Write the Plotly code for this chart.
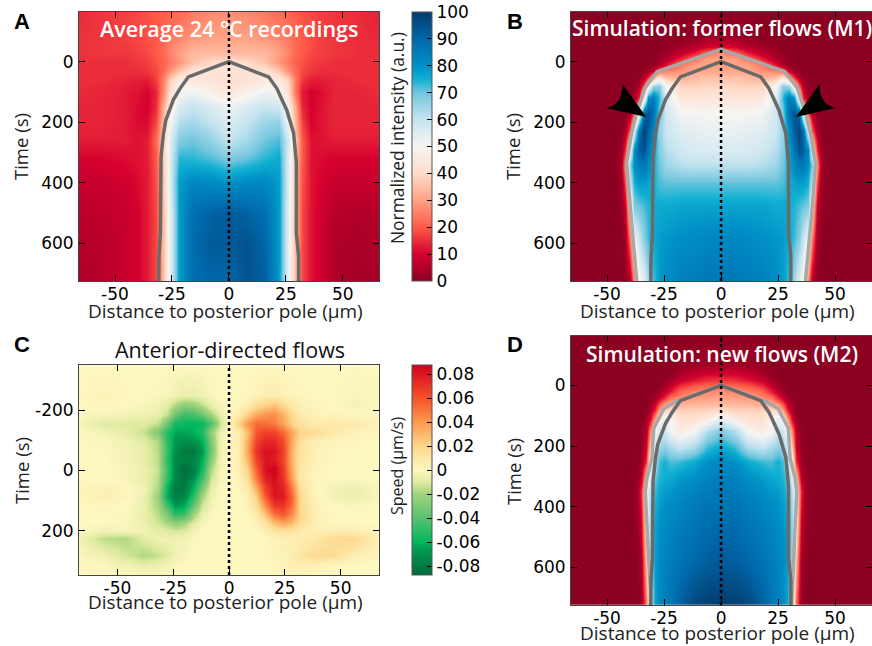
import numpy as np
import plotly.graph_objects as go

W, H = 872, 646

# ---------- panel A: average recordings (full width) ----------
a_x = [-70,-56,-46,-40,-36,-32,-29,-26,-22,-16,-8,0,8,16,22,26,29,32,36,40,46,56,70]
a_t = [-170,-80,-30,0,30,60,100,150,200,260,320,400,500,600,730]
a_z = [
 [14,16,17,18,19,20,20,21,22,24,26,27,26,24,22,21,20,19,18,17,16,15,13],
 [15,16,17,18,19,20,22,24,26,28,30,30,30,28,26,24,22,20,19,17,16,15,14],
 [15,16,16,17,18,20,22,26,30,34,34,34,34,34,30,26,22,20,18,17,16,15,15],
 [15,15,15,16,17,19,21,24,28,35,40,41,40,35,28,24,21,19,17,16,15,15,15],
 [15,15,15,15,16,18,22,28,36,43,43,43,43,43,36,28,22,18,16,15,15,15,15],
 [15,15,14,13,13,17,25,38,46,45,43,41,43,45,46,38,25,16,13,13,14,15,15],
 [15,14,13,12,10,14,26,42,50,52,48,44,48,52,50,42,24,13,10,11,14,14,15],
 [14,14,13,11,10,15,32,46,56,60,56,52,56,60,58,48,32,14,10,12,14,14,14],
 [14,14,13,11,11,18,34,50,62,64,60,56,60,65,66,50,34,17,10,12,14,14,14],
 [13,13,13,12,13,22,38,55,68,70,66,60,64,70,72,58,38,20,12,12,13,13,13],
 [10,10,11,12,13,20,36,56,74,74,72,69,71,74,76,56,36,20,12,11,10,10,10],
 [8,8,9,11,13,19,35,56,78,82,82,80,82,82,78,56,35,19,12,10,8,8,8],
 [6,7,8,10,13,18,34,54,78,88,91,93,91,88,78,54,34,18,12,9,6,5,6],
 [5,6,8,10,13,18,34,54,78,89,93,93,95,90,78,54,34,18,12,9,5,4,5],
 [4,6,8,10,13,18,34,54,78,88,90,90,94,92,78,54,34,18,12,9,5,3,4],
]

# ---------- panel B: simulation M1 (half profile, x >= 0) ----------
b_x = [0,6,12,18,24,27,30,32,34,36,38,40,42,44,47,70]
b_t = [-170,-80,-50,-30,-10,10,30,50,80,120,170,230,290,340,400,480,580,730]
b_z = [
 [0,0,0,0,0,0,0,0,0,0,0,0,0,0,0,0],
 [3,2,1,0,0,0,0,0,0,0,0,0,0,0,0,0],
 [12,10,6,3,1,0,0,0,0,0,0,0,0,0,0,0],
 [28,22,13,7,2,1,0,0,0,0,0,0,0,0,0,0],
 [30,30,24,14,5,2,0,0,0,0,0,0,0,0,0,0],
 [30,30,30,24,12,5,1,0,0,0,0,0,0,0,0,0],
 [31,31,31,28,26,22,8,3,1,0,0,0,0,0,0,0],
 [35,35,34,32,34,42,30,14,4,1,0,0,0,0,0,0],
 [39,39,38,39,50,68,65,45,20,5,1,0,0,0,0,0],
 [44,44,44,45,56,74,85,80,45,15,3,0,0,0,0,0],
 [50,50,50,51,58,70,88,95,90,50,18,4,0,0,0,0],
 [53,53,54,55,59,66,82,92,98,88,55,20,4,0,0,0],
 [56,56,56,58,62,68,78,86,95,92,82,50,15,2,0,0],
 [61,61,61,62,65,70,76,82,86,85,80,68,28,4,0,0],
 [71,71,71,71,71,72,75,77,78,78,75,60,18,2,0,0],
 [77,77,77,77,76,76,75,74,72,70,68,42,8,1,0,0],
 [82,82,81,80,79,78,76,73,68,60,52,25,3,0,0,0],
 [86,86,85,84,81,78,72,64,55,48,25,5,0,0,0,0],
]

# ---------- panel D: simulation M2 (half profile, x >= 0) ----------
d_x = [0,6,12,18,22,25,27,29,31,33,35,37,40,70]
d_t = [-170,-70,-40,-20,0,20,40,60,80,110,150,200,250,300,350,400,480,580,730]
d_z = [
 [0,0,0,0,0,0,0,0,0,0,0,0,0,0],
 [3,3,2,1,0,0,0,0,0,0,0,0,0,0],
 [10,10,8,4,1,0,0,0,0,0,0,0,0,0],
 [16,15,12,8,3,1,0,0,0,0,0,0,0,0],
 [22,22,20,15,8,3,1,0,0,0,0,0,0,0],
 [28,26,26,22,14,7,3,1,0,0,0,0,0,0],
 [30,30,29,27,24,14,8,3,1,0,0,0,0,0],
 [34,34,33,32,32,28,18,8,2,0,0,0,0,0],
 [40,38,38,38,40,38,28,14,4,0,0,0,0,0],
 [54,46,42,42,50,54,46,30,10,2,0,0,0,0],
 [68,62,50,46,50,58,58,48,25,5,1,0,0,0],
 [76,72,62,58,62,66,64,58,35,8,1,0,0,0],
 [82,80,76,73,72,75,72,62,50,15,2,0,0,0],
 [84,83,80,78,76,75,74,70,55,35,6,1,0,0],
 [86,85,83,81,79,78,76,73,62,48,15,2,0,0],
 [87,87,85,83,81,80,78,75,64,48,12,2,0,0],
 [90,89,87,85,83,81,80,77,66,44,8,1,0,0],
 [93,92,90,87,85,83,81,78,64,34,4,0,0,0],
 [100,99,97,92,87,84,81,77,58,22,2,0,0,0],
]

# ---------- panel C: flow speed, in 0.001 um/s ----------
c_x = [-70,-56,-46,-38,-32,-28,-24,-20,-16,-12,-8,-4,0,4,8,12,16,20,24,28,32,38,46,56,70]
c_t = [-350,-250,-215,-185,-155,-125,-95,-65,-35,-5,25,55,85,115,145,175,200,225,280,310,350]
c_z = [
 [0,0,0,0,0,0,0,0,0,0,0,0,0,0,0,0,0,0,0,0,0,0,0,0,0],
 [0,3,1,0,-1,-2,-4,-6,-6,-4,-1,0,0,0,1,3,5,6,4,2,1,0,0,-2,0],
 [0,2,0,-2,-4,-8,-18,-26,-24,-16,-6,-1,0,1,5,15,22,26,18,9,4,2,0,-3,0],
 [0,-2,-3,-4,-6,-14,-34,-46,-44,-34,-20,-6,0,6,20,34,40,42,32,16,6,3,2,1,0],
 [0,-9,-9,-9,-14,-34,-56,-58,-60,-58,-42,-14,0,18,40,52,52,48,36,20,12,7,8,8,0],
 [0,-3,-7,-14,-30,-52,-64,-64,-62,-54,-24,-4,0,6,28,58,66,64,54,36,20,16,9,3,0],
 [0,-1,-4,-8,-18,-50,-68,-72,-70,-62,-30,-4,0,5,32,64,74,74,62,34,13,5,2,1,0],
 [0,0,-3,-7,-16,-48,-72,-80,-82,-68,-32,-4,0,5,34,70,82,80,66,30,11,4,1,0,0],
 [0,0,-3,-7,-16,-50,-74,-78,-76,-62,-26,-3,0,4,28,64,80,78,64,30,11,4,1,0,0],
 [0,0,-2,-5,-14,-46,-76,-86,-80,-56,-18,-2,0,3,20,56,82,88,68,32,9,2,0,0,0],
 [0,0,-2,-6,-16,-48,-76,-82,-72,-46,-12,-2,0,2,14,48,76,84,70,36,10,2,0,0,0],
 [1,4,1,-4,-18,-58,-80,-80,-62,-32,-7,-1,0,1,8,34,66,82,76,46,12,2,-3,-5,0],
 [1,5,2,-5,-22,-62,-78,-74,-52,-20,-4,0,0,0,4,22,58,80,78,54,16,3,-3,-6,0],
 [0,1,0,-6,-20,-46,-68,-64,-38,-12,-3,0,0,0,3,14,42,68,70,50,18,4,0,-1,0],
 [0,0,-1,-6,-16,-30,-50,-46,-22,-6,-1,0,0,0,1,7,26,50,58,42,20,5,1,0,0],
 [0,0,-1,-5,-12,-18,-24,-20,-9,-2,0,0,0,0,0,2,10,26,34,28,14,5,1,0,0],
 [0,-4,-3,-4,-7,-9,-11,-8,-3,0,0,0,0,0,0,1,3,10,13,11,7,5,6,6,1],
 [0,-16,-18,-8,-4,-4,-4,-3,-1,0,0,0,0,0,0,0,1,3,5,5,5,8,16,18,0],
 [0,-4,-12,-18,-14,-9,-4,-2,0,0,0,0,0,0,0,0,1,2,3,6,10,17,16,5,0],
 [0,-1,-4,-7,-5,-3,-1,0,0,0,0,0,0,0,0,0,0,1,2,5,6,4,1,0,0],
 [0,0,0,0,0,0,0,0,0,0,0,0,0,0,0,0,0,0,0,0,0,0,0,0,0],
]

# ---------- contour outlines ----------
rec_x = [-30.8,-30.7,-30.1,-29.8,-28.7,-27.7,-24.4,-21.4,-17.8,0,17.4,21,25.4,28.4,29.6,29.6,30.6,30.6]
rec_t = [724,642,567,314,236,193,126,88,50,0,50,88,160,236,333,567,642,724]
m1_x = [-37,-37.8,-40,-41.4,-39.2,-37,-33.4,-28,0,28,33.4,37,39.2,41.4,40,37.8,37]
m1_t = [724,655,480,336,236,170,87,33,-41,33,87,170,236,336,480,655,724]
m2_x = [-31,-31,-32.5,-33.2,-32.5,-30.3,-29.5,-25,-20,0,20,25,29.5,30.3,32.5,33.2,32.5,31,31]
m2_t = [724,680,461,351,306,240,141,76,54,0,54,76,141,240,306,351,461,680,724]

# ---------- ticks and labels ----------
x_ticks = [-50,-25,0,25,50]
x_labels = ["-50","-25","0","25","50"]
ab_time_ticks = [0,200,400,600]
c_time_ticks = [-200,0,200]
c_time_labels = ["-200","0","200"]
int_ticks = [0,10,20,30,40,50,60,70,80,90,100]
speed_ticks = [-0.08,-0.06,-0.04,-0.02,0,0.02,0.04,0.06,0.08]
speed_labels = ["-0.08","-0.06","-0.04","-0.02","0","0.02","0.04","0.06","0.08"]

int_scale = [[0,"#8c0022"],[0.1,"#d6002e"],[0.2,"#ff5a48"],[0.3,"#ffa284"],[0.4,"#ffdcca"],
             [0.5,"#f7f5f2"],[0.6,"#c6e4f0"],[0.7,"#72c6de"],[0.75,"#10b0d2"],[0.8,"#0090c6"],
             [0.9,"#0068aa"],[1,"#043a6c"]]
speed_scale = [[0,"#006a3c"],[0.12,"#009a50"],[0.157,"#00b85e"],[0.27,"#58c070"],[0.386,"#a2d47c"],
               [0.44,"#dcea9e"],[0.5,"#fdf7c0"],[0.614,"#fdd68a"],[0.729,"#fb9850"],[0.843,"#f7502c"],
               [1,"#d0001e"]]

TICK_FONT = dict(family="DejaVu Sans", size=17, color="black")
TEXT = "Open Sans"

def mirror(x, z):
    x = np.array(x, float); z = np.array(z, float)
    return np.r_[-x[:0:-1], x], np.c_[z[:, :0:-1], z]

def px(v): return v / W
def py(v): return 1 - v / H

panels = {
    "A": dict(ax="", box=(79,379.3,12,281), xr=(-65.8,66), yr=(724,-164), yt=ab_time_ticks, yl=None, xt=(225.5,311), yc=(21,147)),
    "B": dict(ax="2", box=(571,872,12,281), xr=(-65.8,66.2), yr=(724,-164), yt=ab_time_ticks, yl=None, xt=(717.5,311), yc=(513,147)),
    "C": dict(ax="3", box=(79,379.3,365.3,575), xr=(-67.2,67.3), yr=(346,-348), yt=c_time_ticks, yl=c_time_labels, xt=(225.5,601.5), yc=(21,471)),
    "D": dict(ax="4", box=(571,872,335.7,605), xr=(-65.8,66.2), yr=(724,-164), yt=ab_time_ticks, yl=None, xt=(717.5,633), yc=(513,472)),
}

fig = go.Figure()
bx, bz = mirror(b_x, b_z)
dx, dz = mirror(d_x, d_z)
fig.add_trace(go.Heatmap(x=a_x, y=a_t, z=a_z, zsmooth="best", coloraxis="coloraxis", xaxis="x", yaxis="y"))
fig.add_trace(go.Heatmap(x=bx, y=b_t, z=bz, zsmooth="best", coloraxis="coloraxis", xaxis="x2", yaxis="y2"))
fig.add_trace(go.Heatmap(x=c_x, y=c_t, z=(np.array(c_z, float) / 1000), zsmooth="best", coloraxis="coloraxis2", xaxis="x3", yaxis="y3"))
fig.add_trace(go.Heatmap(x=dx, y=d_t, z=dz, zsmooth="best", coloraxis="coloraxis", xaxis="x4", yaxis="y4"))

GREY, LIGHT = "#6a6a6a", "#a8a8a8"
def line(x, y, ax, color, width=3.5, dash="solid"):
    fig.add_trace(go.Scatter(x=x, y=y, mode="lines", xaxis="x"+ax, yaxis="y"+ax, showlegend=False,
                             hoverinfo="skip", line=dict(color=color, width=width, dash=dash)))

line(m1_x, m1_t, "2", LIGHT)
line(m2_x, m2_t, "4", LIGHT)
for ax in ["", "2", "4"]:
    line(rec_x, rec_t, ax, GREY)
for k, p in panels.items():
    line([0,0], list(p["yr"]), p["ax"], "black", 2.5, "3px,3px")

layout = dict(width=W, height=H, margin=dict(l=0,r=0,t=0,b=0), paper_bgcolor="white", plot_bgcolor="white",
              showlegend=False, font=dict(family=TEXT, color="#222"))
for k, p in panels.items():
    x0,x1,y0,y1 = p["box"]
    common = dict(ticks="inside", ticklen=6, tickwidth=1, tickcolor="black", showline=True, linecolor="#444",
                  linewidth=1, mirror="ticks", showgrid=False, zeroline=False, tickfont=TICK_FONT)
    layout["xaxis"+p["ax"]] = dict(domain=[px(x0),px(x1)], range=list(p["xr"]), tickvals=x_ticks, ticktext=x_labels,
        anchor="y"+p["ax"], ticklabelstandoff=-2, **common)
    y_extra = dict(ticktext=p["yl"]) if p["yl"] else {}
    layout["yaxis"+p["ax"]] = dict(domain=[py(y1),py(y0)], range=list(p["yr"]), tickvals=p["yt"],
        anchor="x"+p["ax"], ticklabelstandoff=1, **y_extra, **common)

def cb(y0, y1, vals, labels=None):
    d = dict(x=px(411.7), xanchor="left", xpad=0, thickness=20, thicknessmode="pixels",
             y=py(y1), yanchor="bottom", ypad=0, len=(y1-y0)/H, lenmode="fraction",
             tickvals=vals, ticks="inside", ticklen=5, tickcolor="black", tickwidth=1,
             outlinecolor="#555", outlinewidth=1, tickfont=TICK_FONT)
    if labels: d["ticktext"] = labels
    return d

layout["coloraxis"] = dict(cmin=0, cmax=100, colorscale=int_scale, colorbar=cb(12,281,int_ticks))
layout["coloraxis2"] = dict(cmin=-0.0875, cmax=0.0875, colorscale=speed_scale, colorbar=cb(365.3,575,speed_ticks,speed_labels))

def note(text, xp, yp, size=20, color="white", family=TEXT, angle=0, weight=None, anchor="center"):
    f = dict(family=family, size=size, color=color)
    if weight: f["weight"] = weight
    return dict(text=text, xref="paper", yref="paper", x=px(xp), y=py(yp), showarrow=False, font=f,
                textangle=angle, xanchor=anchor, yanchor="middle")

notes = [
    note("A", 12, 21, 22, "black", "Liberation Sans", weight="bold", anchor="left"),
    note("B", 505, 21, 22, "black", "Liberation Sans", weight="bold", anchor="left"),
    note("C", 12, 344, 22, "black", "Liberation Sans", weight="bold", anchor="left"),
    note("D", 505, 345, 22, "black", "Liberation Sans", weight="bold", anchor="left"),
    note("Average 24 °C recordings", 229, 28, 21.5, weight=600),
    note("Simulation: former flows (M1)", 721.5, 28, 21, weight=600),
    note("Simulation: new flows (M2)", 721.5, 353.5, 21, weight=600),
    note("Anterior-directed flows", 230, 349, 21.5, "#111"),
    note("Normalized intensity (a.u.)", 397, 138, 17.4, "#222", angle=-90),
    note("Speed (µm/s)", 397, 466, 16, "#222", angle=-90),
]
for k, p in panels.items():
    notes.append(note("Distance to posterior pole (µm)", p["xt"][0], p["xt"][1], 19, "#222"))
    notes.append(note("Time (s)", p["yc"][0], p["yc"][1], 18.5, "#222", angle=-90))
layout["annotations"] = notes

# arrowheads in panel B, in its data coordinates
arrow_shapes = []
for s in (-1, 1):
    path = f"M {s*32.8} 183 L {s*43.3} 74 Q {s*43} 143 {s*50.3} 153 Z"
    arrow_shapes.append(dict(type="path", path=path, xref="x2", yref="y2", fillcolor="black", line=dict(width=0)))
# tick marks on the left side of the colour bars
for vals, (y0, y1), lo, hi in ((int_ticks[1:-1], (12,281), 0, 100), (speed_ticks, (365.3,575), -0.0875, 0.0875)):
    for v in vals:
        yy = y1 - (v-lo)/(hi-lo)*(y1-y0)
        arrow_shapes.append(dict(type="line", xref="paper", yref="paper", x0=px(411.7), x1=px(416.7),
                                 y0=py(yy), y1=py(yy), line=dict(color="black", width=1)))
layout["shapes"] = arrow_shapes

fig.update_layout(**layout)
fig.write_html("out.html", config={"displayModeBar": False},
               post_script="document.body.style.margin='0';document.body.style.overflow='hidden';")
